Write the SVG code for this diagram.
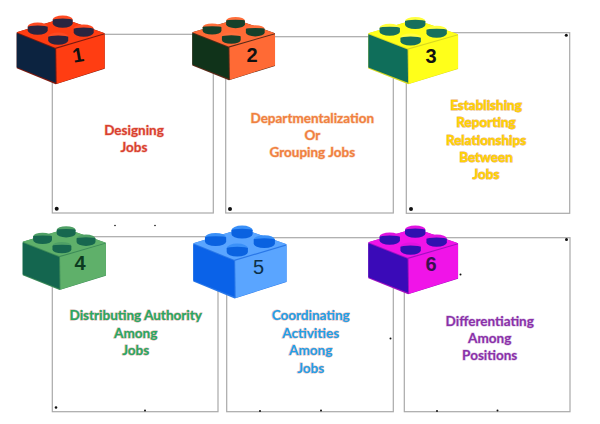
<svg xmlns="http://www.w3.org/2000/svg" xmlns:xlink="http://www.w3.org/1999/xlink" width="600" height="424" viewBox="0 0 600 424">
<style>
.box{fill:#fff;stroke:#a9a9a9;stroke-width:1.2}
.lbl{font-family:"Lato","Liberation Sans",sans-serif;font-weight:700;font-size:13.5px;text-anchor:middle;stroke-width:1;paint-order:stroke}
.num{font-family:"Liberation Sans",sans-serif;font-weight:700;font-size:20px;text-anchor:middle;fill:#111}
.t{fill:var(--t)}.l{fill:var(--l)}.e{fill:var(--e)}.h{fill:var(--h)}.s{fill:var(--s)}
.dot{fill:#111}
</style>
<defs>
<g id="stud">
<ellipse class="h" cx="0" cy="0" rx="10" ry="4.200"/>
<path class="e" d="M-10 0A10 1.200 0 0 1 10 0V3.800A10 4.200 0 0 1 -10 3.800Z"/>
</g>
<g id="brick">
<polygon class="s" points="0,0 46,-14 88,1 88,36.500 39,52 0,36"/>
<polygon class="t" points="0,0 46,-14 88,1 38.500,15.500"/>
<polygon class="l" points="0,1 38.500,16.500 39,50.500 0,35"/>
<polygon class="t" points="39.500,16.500 88,2 88,36 40,51.500"/>
<use xlink:href="#stud" href="#stud" x="21" y="-5.500"/>
<use xlink:href="#stud" href="#stud" x="46" y="-12.500"/>
<use xlink:href="#stud" href="#stud" x="67" y="-3.500"/>
<use xlink:href="#stud" href="#stud" x="41.500" y="4.500"/>
</g>
</defs>

<g id="connectors"/>

<g id="node-1">
<rect class="box" x="52.300" y="34.300" width="161" height="178.700"/>
<circle class="dot" cx="56.700" cy="208.700" r="2"/>
<g style="--t:#ff3d12;--l:#0c2340;--e:#2a2540;--h:#ff4a22;--s:#7a1a10" transform="translate(16.700 32.300)"><use xlink:href="#brick" href="#brick"/></g>
<text class="num" x="78" y="62" transform="rotate(-10 78 55)">1</text>
<text class="lbl" fill="#d8402f" stroke="#f6c0b6" x="134" y="134.500">Designing</text>
<text class="lbl" fill="#d8402f" stroke="#f6c0b6" x="134" y="152">Jobs</text>
</g>

<g id="node-2">
<rect class="box" x="225.700" y="36.700" width="167.600" height="176.300"/>
<circle class="dot" cx="230" cy="209" r="2"/>
<g style="--t:#ff6a35;--l:#10331a;--e:#16402a;--h:#ff6f3c;--s:#5a2a18" transform="translate(192.300 32.300) scale(.94 .92)"><use xlink:href="#brick" href="#brick"/></g>
<text class="num" x="252" y="62">2</text>
<text class="lbl" fill="#f08040" stroke="#f8d0b4" x="312.300" y="122.700">Departmentalization</text>
<text class="lbl" fill="#f08040" stroke="#f8d0b4" x="312.300" y="140">Or</text>
<text class="lbl" fill="#f08040" stroke="#f8d0b4" x="312.300" y="157.300">Grouping Jobs</text>
</g>

<g id="node-3">
<rect class="box" x="406.300" y="32.700" width="163.400" height="180.600"/>
<circle class="dot" cx="411" cy="209" r="2"/>
<circle class="dot" cx="566.300" cy="35.300" r="1.500"/>
<g style="--t:#ffff1a;--l:#0f6e5a;--e:#16705c;--h:#ffff40;--s:#d8d820" transform="translate(368.300 33.300) scale(1.020 .98)"><use xlink:href="#brick" href="#brick"/></g>
<text class="num" x="431" y="62.500">3</text>
<text class="lbl" fill="#ffd400" stroke="#eab070" x="486" y="110">Establishing</text>
<text class="lbl" fill="#ffd400" stroke="#eab070" x="486" y="127.300">Reporting</text>
<text class="lbl" fill="#ffd400" stroke="#eab070" x="486" y="144.600">Relationships</text>
<text class="lbl" fill="#ffd400" stroke="#eab070" x="486" y="161.500">Between</text>
<text class="lbl" fill="#ffd400" stroke="#eab070" x="486" y="179">Jobs</text>
</g>

<g id="node-4">
<rect class="box" x="52.300" y="236.700" width="165.700" height="175"/>
<circle class="dot" cx="56" cy="407.500" r="1.300"/>
<circle class="dot" cx="145" cy="410.500" r="1"/>
<circle class="dot" cx="115" cy="225.500" r=".8"/>
<circle class="dot" cx="155" cy="225.500" r=".8"/>
<g style="--t:#5fb06a;--l:#14664f;--e:#17674f;--h:#4fa066;--s:#3c8a58" transform="translate(22.700 241.700) scale(.945 .93)"><use xlink:href="#brick" href="#brick"/></g>
<text class="num" x="80" y="270" style="fill:#0c3a20">4</text>
<text class="lbl" fill="#28a860" stroke="#d0b0a8" x="135.700" y="320.300">Distributing Authority</text>
<text class="lbl" fill="#28a860" stroke="#d0b0a8" x="135.700" y="337.700">Among</text>
<text class="lbl" fill="#28a860" stroke="#d0b0a8" x="135.700" y="355">Jobs</text>
</g>

<g id="node-5">
<rect class="box" x="226.700" y="237.700" width="166.600" height="174"/>
<circle class="dot" cx="260" cy="411" r="1"/>
<circle class="dot" cx="321" cy="410.500" r="1"/>
<circle class="dot" cx="390.500" cy="338.500" r="1"/>
<g style="--t:#5aa5ff;--l:#0a62e8;--e:#0a62e0;--h:#3a90f8;--s:#2a78e8" transform="translate(193.300 243.300) scale(1.060 1.060)"><use xlink:href="#brick" href="#brick"/></g>
<text class="num" x="258.500" y="274" style="font-weight:400;fill:#0c3048">5</text>
<text class="lbl" fill="#22a0e8" stroke="#e0b8b8" x="310.700" y="320.300">Coordinating</text>
<text class="lbl" fill="#22a0e8" stroke="#e0b8b8" x="310.700" y="337.700">Activities</text>
<text class="lbl" fill="#22a0e8" stroke="#e0b8b8" x="310.700" y="355">Among</text>
<text class="lbl" fill="#22a0e8" stroke="#e0b8b8" x="310.700" y="372.600">Jobs</text>
</g>

<g id="node-6">
<rect class="box" x="404.300" y="237.700" width="165.700" height="174"/>
<circle class="dot" cx="566.500" cy="239.500" r="1.500"/>
<circle class="dot" cx="437" cy="411" r="1"/>
<circle class="dot" cx="497.500" cy="410.500" r="1"/>
<circle class="dot" cx="460.500" cy="274.500" r="1"/>
<g style="--t:#f014e8;--l:#3a0ab8;--e:#3010b0;--h:#e014e0;--s:#a010c0" transform="translate(368.300 242.300) scale(1.020 1)"><use xlink:href="#brick" href="#brick"/></g>
<text class="num" x="431" y="271" style="fill:#3a1050">6</text>
<text class="lbl" fill="#8a30a8" stroke="#d8c0e4" x="489.700" y="325.700">Differentiating</text>
<text class="lbl" fill="#8a30a8" stroke="#d8c0e4" x="489.700" y="343">Among</text>
<text class="lbl" fill="#8a30a8" stroke="#d8c0e4" x="489.700" y="360.300">Positions</text>
</g>
</svg>
